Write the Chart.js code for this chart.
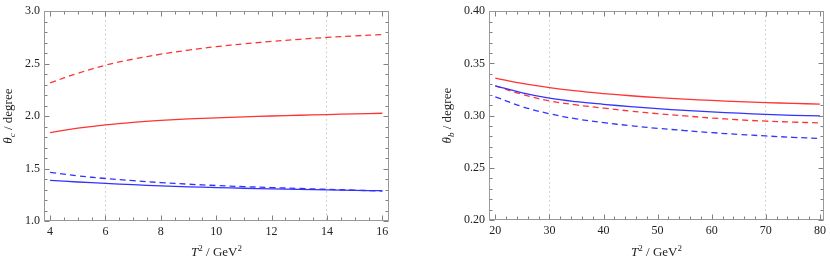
<!DOCTYPE html>
<html>
<head>
<meta charset="utf-8">
<script src="https://cdn.jsdelivr.net/npm/chart.js@4.4.0/dist/chart.umd.min.js"></script>
<style>
  html,body{margin:0;padding:0;background:#fff;}
  .panel{position:absolute;top:0;width:415px;height:265px;}
</style>
</head>
<body>
<div class="panel" style="left:0"><canvas id="chartC" width="415" height="265"></canvas></div>
<div class="panel" style="left:415px"><canvas id="chartB" width="415" height="265"></canvas></div>
<script>
/* ============================
   Data
   ============================ */
// left panel: theta_c vs T^2
const tC        = [4, 5, 6, 7, 8, 9, 10, 11, 12, 13, 14, 15, 16];
const cRedDash  = [2.317, 2.408, 2.485, 2.543, 2.59, 2.629, 2.662, 2.689, 2.712, 2.732, 2.75, 2.765, 2.778];
const cRedSolid = [1.843, 1.885, 1.917, 1.941, 1.959, 1.973, 1.984, 1.993, 2.001, 2.008, 2.015, 2.021, 2.027];
const cBlueDash = [1.464, 1.431, 1.405, 1.384, 1.366, 1.351, 1.338, 1.328, 1.319, 1.31, 1.302, 1.294, 1.286];
const cBlueSolid= [1.388, 1.372, 1.359, 1.346, 1.335, 1.326, 1.319, 1.312, 1.306, 1.301, 1.297, 1.292, 1.289];
const cXMajor   = [4, 6, 8, 10, 12, 14, 16];
const cYMajor   = [1.0, 1.5, 2.0, 2.5, 3.0];
const cGrid     = [6, 14];

// right panel: theta_b vs T^2
const tB        = [20, 25, 30, 35, 40, 45, 50, 55, 60, 65, 70, 75, 80];
const bRedSolid = [0.336, 0.3308, 0.3268, 0.3236, 0.3211, 0.319, 0.3172, 0.3158, 0.3145, 0.3134, 0.3125, 0.3117, 0.311];
const bBlueSolid= [0.3285, 0.3218, 0.3167, 0.3133, 0.3108, 0.3086, 0.3066, 0.305, 0.3036, 0.3023, 0.3011, 0.3003, 0.2997];
const bRedDash  = [0.3285, 0.3203, 0.3141, 0.3102, 0.3072, 0.3043, 0.3018, 0.2997, 0.2977, 0.296, 0.2947, 0.2938, 0.293];
const bBlueDash = [0.318, 0.3086, 0.3018, 0.2968, 0.2933, 0.2903, 0.2878, 0.2857, 0.2837, 0.282, 0.2805, 0.2792, 0.278];
const bXMajor   = [20, 30, 40, 50, 60, 70, 80];
const bYMajor   = [0.20, 0.25, 0.30, 0.35, 0.40];
const bGrid     = [30, 70];

const RED = '#ff3333', BLUE = '#3333ff';
const SERIF = '"Liberation Serif", "DejaVu Serif", serif';

/* helpers */
function tickRange(from, to, step){
  const out = [];
  const n = Math.round((to - from) / step);
  for(let i=0;i<=n;i++) out.push(Number((from + i*step).toFixed(4)));
  return out;
}
const isIn = (arr, v) => arr.some(m => Math.abs(m - v) < 1e-6);

function drawParts(ctx, parts, x, y){
  let w = 0;
  parts.forEach(p => { ctx.font = p.f; w += ctx.measureText(p.t).width; });
  let cx = x - w/2;
  parts.forEach(p => {
    ctx.font = p.f;
    ctx.fillText(p.t, cx, y + (p.dy||0));
    cx += ctx.measureText(p.t).width;
  });
}

/* frame, inward ticks on all four sides, axis titles */
const frameTicks = {
  id: 'frameTicks',
  afterDraw(chart, args, o){
    const {ctx, chartArea:a, scales:{x, y}} = chart;
    const L = Math.round(a.left)+0.5, R = Math.round(a.right)-0.5;
    const T = Math.round(a.top)+0.5, B = Math.round(a.bottom)-0.5;
    ctx.save();
    ctx.setLineDash([]);
    ctx.lineWidth = 1;
    ctx.strokeStyle = '#808080';
    ctx.beginPath();
    x.ticks.forEach(t => {
      const px = Math.round(x.getPixelForValue(t.value))+0.5;
      const len = isIn(o.xMajor, t.value) ? 5 : 3;
      ctx.moveTo(px, B); ctx.lineTo(px, B-len);
      ctx.moveTo(px, T); ctx.lineTo(px, T+len);
    });
    y.ticks.forEach(t => {
      const py = Math.round(y.getPixelForValue(t.value))+0.5;
      const len = isIn(o.yMajor, t.value) ? 5 : 3;
      ctx.moveTo(L, py); ctx.lineTo(L+len, py);
      ctx.moveTo(R, py); ctx.lineTo(R-len, py);
    });
    ctx.stroke();
    ctx.strokeStyle = '#999';
    ctx.strokeRect(L, T, R-L, B-T);

    // axis titles
    ctx.fillStyle = '#222';
    ctx.textBaseline = 'alphabetic';
    drawParts(ctx, [
      {t:'T', f:'italic 13px '+SERIF},
      {t:'2', f:'9px '+SERIF, dy:-5},
      {t:' / GeV', f:'13px '+SERIF},
      {t:'2', f:'9px '+SERIF, dy:-5}
    ], (a.left+a.right)/2, o.xTitleY);
    ctx.translate(o.yTitleX, (a.top+a.bottom)/2);
    ctx.rotate(-Math.PI/2);
    drawParts(ctx, [
      {t:'\u03b8', f:'italic 13px '+SERIF},
      {t:o.sub, f:'italic 9px '+SERIF, dy:3},
      {t:' / degree', f:'13px '+SERIF}
    ], 0, 0);
    ctx.restore();
  }
};

function line(xs, ys, color, dashed){
  return {
    data: xs.map((v,i)=>({x:v, y:ys[i]})),
    borderColor: color,
    borderWidth: 1.3,
    borderDash: dashed ? [6,4] : [],
    pointRadius: 0,
    fill: false,
    tension: 0.4
  };
}

function makeChart(id, cfg){
  const tickFont = {family: SERIF, size: 12};
  return new Chart(document.getElementById(id).getContext('2d'), {
    type: 'line',
    data: { datasets: cfg.datasets },
    plugins: [frameTicks],
    options: {
      responsive: false,
      animation: false,
      devicePixelRatio: 1,
      layout: { padding: cfg.padding },
      plugins: {
        legend:{display:false}, tooltip:{enabled:false},
        frameTicks: Object.assign({xMajor: cfg.xMajor, yMajor: cfg.yMajor}, cfg.titles)
      },
      scales: {
        x: {
          type: 'linear', min: cfg.xMin, max: cfg.xMax,
          afterBuildTicks: s => { s.ticks = cfg.xTicks.map(v=>({value:v})); },
          afterFit: s => { s.height = cfg.xHeight; },
          ticks: {
            autoSkip: false, maxRotation: 0, padding: 4, color: '#222', font: tickFont,
            callback: v => isIn(cfg.xMajor, v) ? String(v) : ''
          },
          grid: {
            drawTicks: false, lineWidth: 1,
            color: c => (c.tick && isIn(cfg.grid, c.tick.value)) ? '#c4c4c4' : 'rgba(0,0,0,0)'
          },
          border: { display: false, dash: [1.5,3] }
        },
        y: {
          type: 'linear', min: cfg.yMin, max: cfg.yMax,
          afterBuildTicks: s => { s.ticks = cfg.yTicks.map(v=>({value:v})); },
          afterFit: s => { s.width = cfg.yWidth; },
          ticks: {
            autoSkip: false, padding: 4, color: '#222', font: tickFont,
            callback: v => isIn(cfg.yMajor, v) ? v.toFixed(cfg.yDec) : ''
          },
          grid: { display: false, drawTicks: false },
          border: { display: false }
        }
      }
    }
  });
}

makeChart('chartC', {
  datasets: [
    line(tC, cRedDash, RED, true),
    line(tC, cRedSolid, RED, false),
    line(tC, cBlueDash, BLUE, true),
    line(tC, cBlueSolid, BLUE, false)
  ],
  padding: {left:0, top:8, right:26, bottom:0},
  xMin: 3.78, xMax: 16.24, yMin: 1, yMax: 3,
  xTicks: tickRange(4, 16, 0.5), yTicks: tickRange(1, 3, 0.1),
  xMajor: cXMajor, yMajor: cYMajor, yDec: 1, grid: cGrid,
  xHeight: 44, yWidth: 44,
  titles: { sub: 'c', xTitleY: 256, yTitleX: 12 }
});

makeChart('chartB', {
  datasets: [
    line(tB, bRedSolid, RED, false),
    line(tB, bBlueSolid, BLUE, false),
    line(tB, bRedDash, RED, true),
    line(tB, bBlueDash, BLUE, true)
  ],
  padding: {left:0, top:8, right:3, bottom:0},
  xMin: 18.84, xMax: 80.77, yMin: 0.2, yMax: 0.4,
  xTicks: tickRange(20, 80, 2), yTicks: tickRange(0.2, 0.4, 0.01),
  xMajor: bXMajor, yMajor: bYMajor, yDec: 2, grid: bGrid,
  xHeight: 45, yWidth: 74,
  titles: { sub: 'b', xTitleY: 256, yTitleX: 36 }
});
</script>
</body>
</html>
